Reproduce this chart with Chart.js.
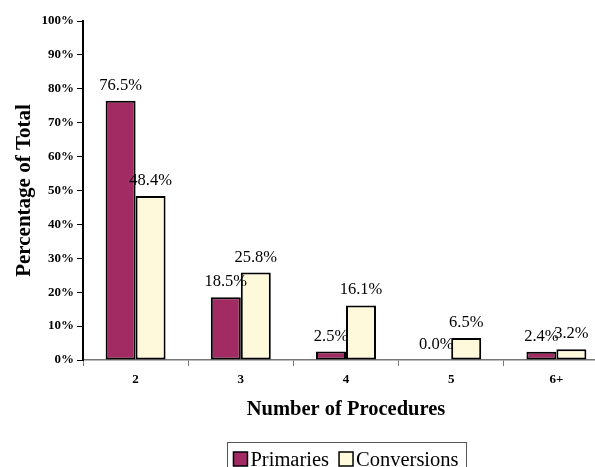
<!DOCTYPE html>
<html>
<head>
<meta charset="utf-8">
<script src="https://cdn.jsdelivr.net/npm/chart.js@4/dist/chart.umd.min.js"></script>
<style>
  html, body { margin: 0; padding: 0; background: #fff; overflow: hidden; }
  #wrap { width: 612px; height: 474px; }
</style>
</head>
<body>
<div id="wrap"><canvas id="grafico"></canvas></div>
<script>
const categorias = ["2", "3", "4", "5", "6+"];
const primarias = [76.5, 18.5, 2.5, 0.0, 2.4];
const conversiones = [48.4, 25.8, 16.1, 6.5, 3.2];

const fuente = "'Liberation Serif', 'Times New Roman', serif";

// etiquetas de valor encima de cada barra
const etiquetas = {
  id: "etiquetas",
  afterDatasetsDraw(chart) {
    const ctx = chart.ctx;
    ctx.save();
    ctx.font = "16.5px " + fuente;
    ctx.fillStyle = "#000";
    ctx.textAlign = "center";
    ctx.textBaseline = "alphabetic";
    chart.data.datasets.forEach((ds, i) => {
      chart.getDatasetMeta(i).data.forEach((barra, j) => {
        ctx.fillText(ds.data[j].toFixed(1) + "%", barra.x, barra.y - 11);
      });
    });
    ctx.restore();
  }
};

// leyenda con marco, centrada bajo el area del grafico
const leyenda = {
  id: "leyenda",
  afterDraw(chart) {
    const ctx = chart.ctx;
    const area = chart.chartArea;
    const centro = (area.left + area.right) / 2;
    const arriba = area.bottom + 82;
    ctx.save();
    ctx.font = "20.5px " + fuente;
    const caja = 14, hueco = 3, sep = 10;
    let total = 0;
    chart.data.datasets.forEach((ds, i) => {
      total += caja + hueco + ctx.measureText(ds.label).width + (i ? sep : 0);
    });
    const ancho = 239;
    ctx.strokeStyle = "#555";
    ctx.lineWidth = 1;
    ctx.strokeRect(Math.round(centro - ancho / 2) + 0.5, arriba + 0.5, ancho, 40);
    let x = centro - total / 2;
    const yCaja = arriba + 10;
    ctx.textBaseline = "alphabetic";
    ctx.fillStyle = "#000";
    chart.data.datasets.forEach((ds, i) => {
      if (i) x += sep;
      ctx.fillStyle = ds.backgroundColor;
      ctx.fillRect(x, yCaja, caja, caja);
      ctx.strokeStyle = "#000";
      ctx.lineWidth = 1.5;
      ctx.strokeRect(x, yCaja, caja, caja);
      x += caja + hueco;
      ctx.fillStyle = "#000";
      ctx.fillText(ds.label, x, yCaja + caja);
      x += ctx.measureText(ds.label).width;
    });
    ctx.restore();
  }
};

new Chart("grafico", {
  type: "bar",
  data: {
    labels: categorias,
    datasets: [
      {
        label: "Primaries",
        data: primarias,
        backgroundColor: "#a12b62",
        borderColor: "#000",
        borderWidth: 2,
        borderSkipped: false,
        categoryPercentage: 0.57,
        barPercentage: 1.0
      },
      {
        label: "Conversions",
        data: conversiones,
        backgroundColor: "#fff9dc",
        borderColor: "#000",
        borderWidth: 2,
        borderSkipped: false,
        categoryPercentage: 0.57,
        barPercentage: 1.0
      }
    ]
  },
  options: {
    responsive: true,
    maintainAspectRatio: false,
    animation: false,
    layout: { padding: { top: 21, right: 3, left: 12, bottom: 42 } },
    plugins: {
      legend: { display: false },
      tooltip: { enabled: false }
    },
    scales: {
      x: {
        afterFit(escala) { escala.height = 72; },
        grid: { drawOnChartArea: false, tickLength: 6, color: "#777" },
        border: { color: "#777", width: 1.5 },
        ticks: { color: "#000", font: { family: fuente, size: 13, weight: "bold" }, padding: 6 },
        title: {
          display: true,
          text: "Number of Procedures",
          color: "#000",
          font: { family: fuente, size: 20.5, weight: "bold" },
          padding: { top: 10, bottom: 10 }
        }
      },
      y: {
        min: 0,
        max: 100,
        afterFit(escala) { escala.width = 71; },
        grid: { drawOnChartArea: false, tickLength: 6, color: "#000" },
        border: { color: "#000", width: 2 },
        ticks: {
          stepSize: 10,
          color: "#000",
          font: { family: fuente, size: 13, weight: "bold" },
          padding: 3,
          callback: v => v + "%"
        },
        title: {
          display: true,
          text: "Percentage of Total",
          color: "#000",
          font: { family: fuente, size: 21, weight: "bold" },
          padding: { top: 0, bottom: 8 }
        }
      }
    }
  },
  plugins: [etiquetas, leyenda]
});
</script>
</body>
</html>
